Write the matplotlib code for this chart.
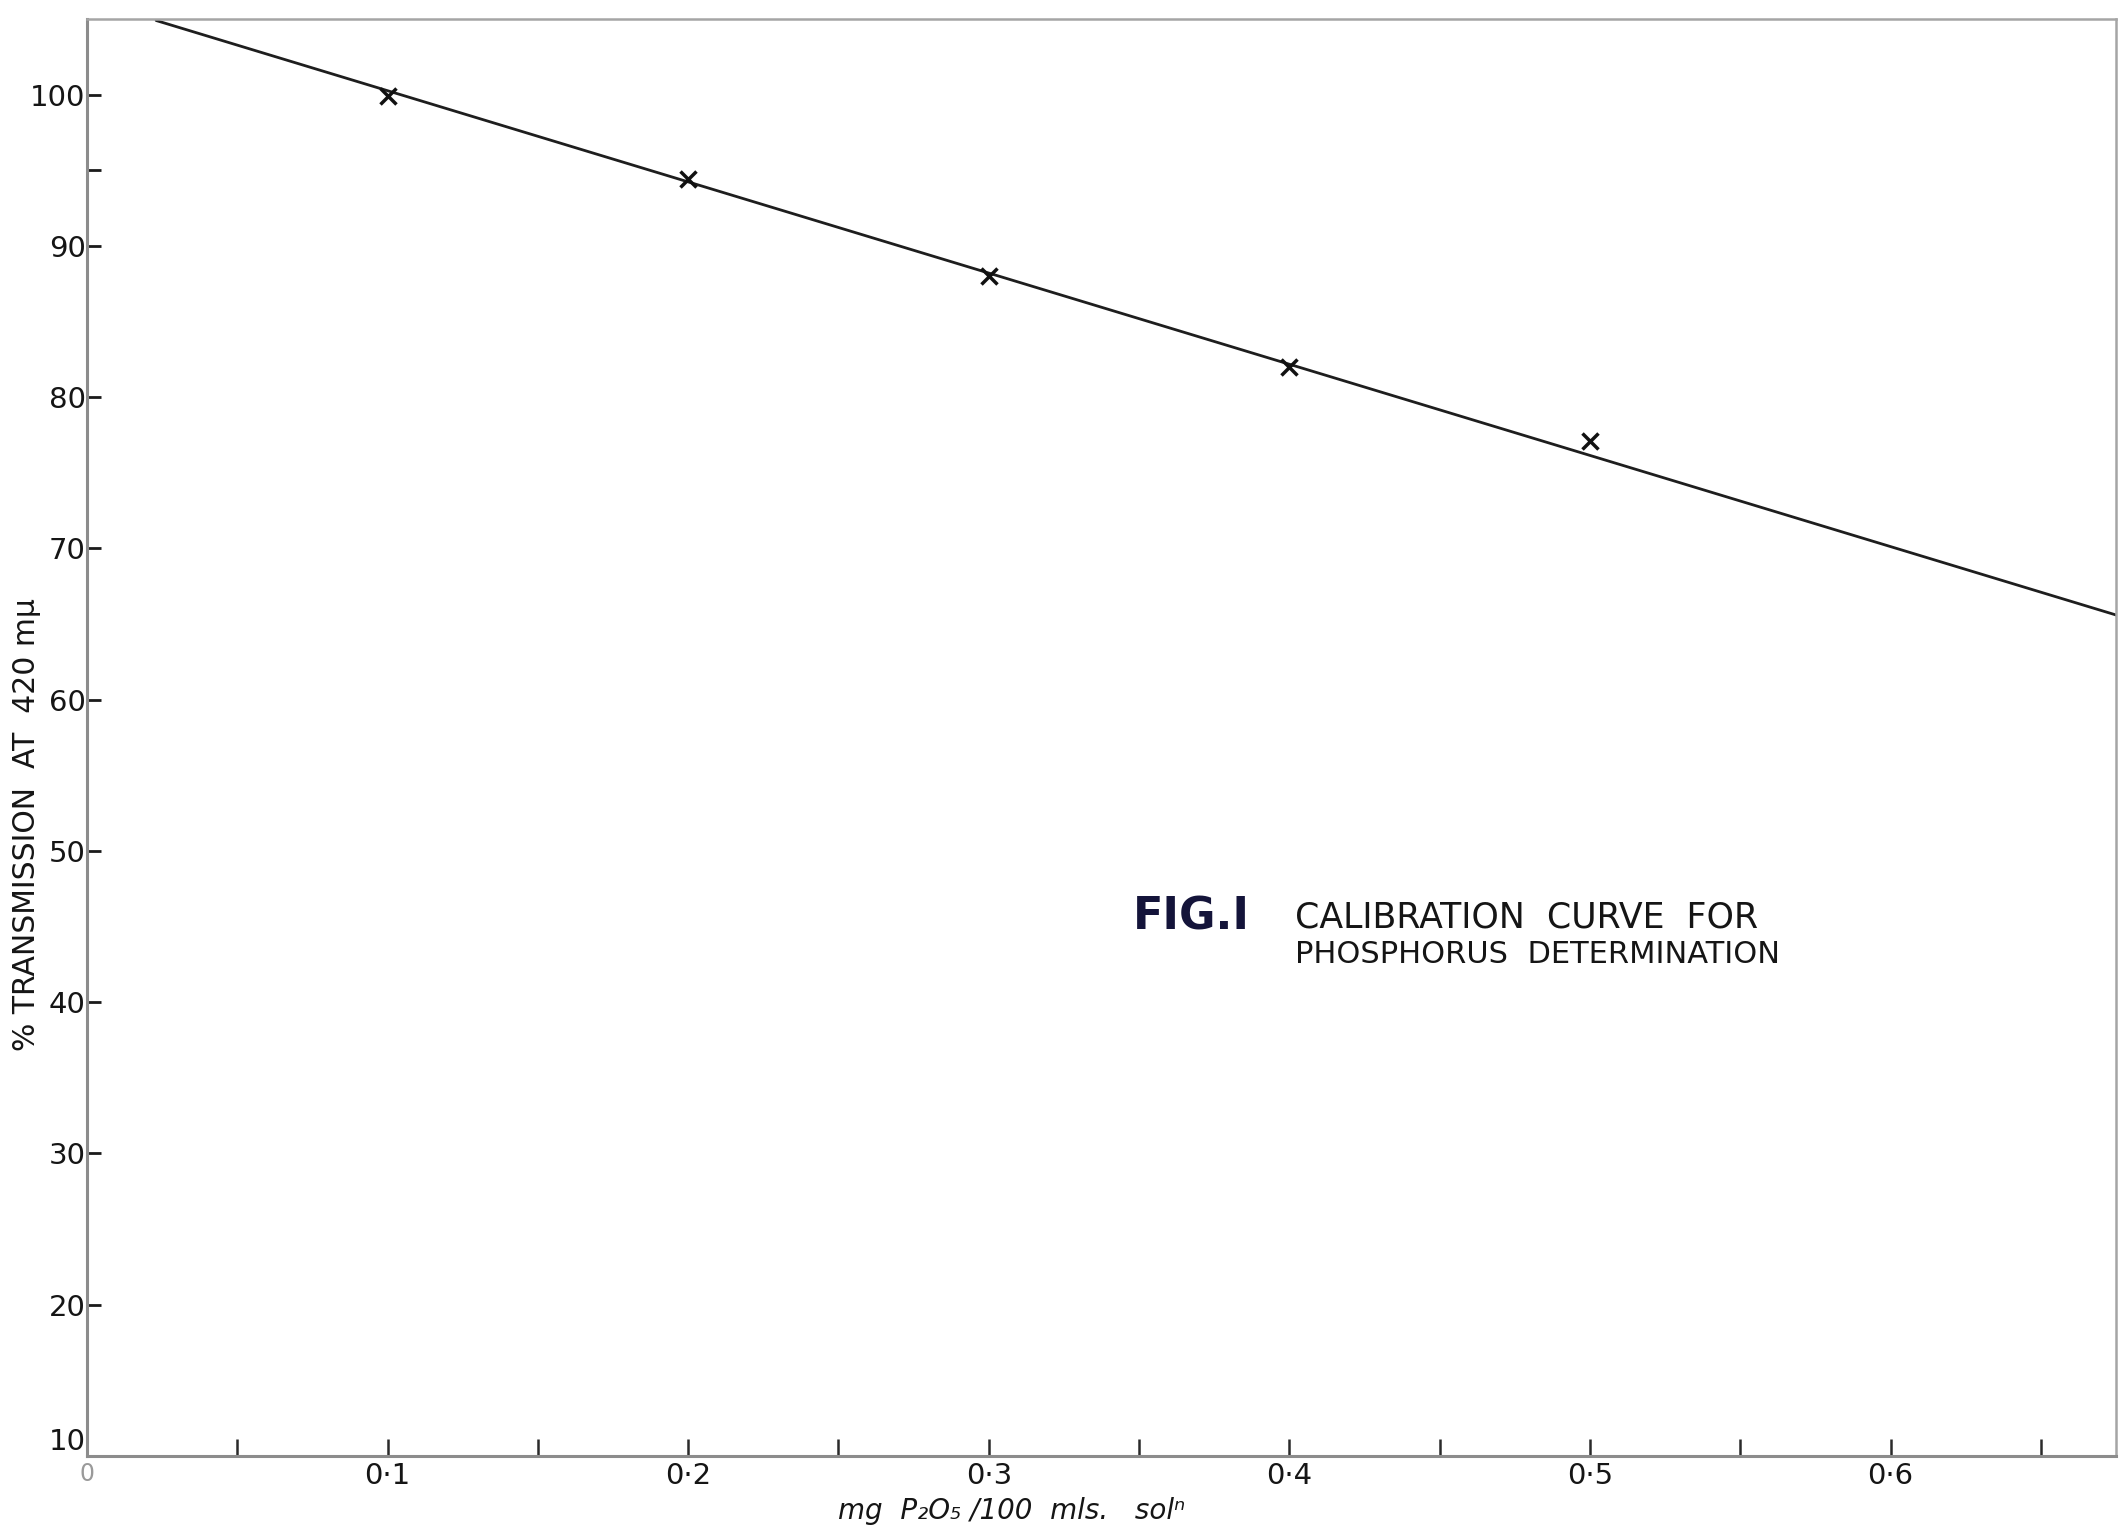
import matplotlib
matplotlib.use("Agg")
import matplotlib.pyplot as plt
from matplotlib.ticker import FixedLocator

# ---- data ----
conc = [0.1, 0.2, 0.3, 0.4, 0.5]                 # mg P2O5 / 100 mls soln
transmission = [99.9, 94.4, 88.0, 82.0, 77.1]    # % transmission at 420 mu
fit_x = [0.023, 0.675]                            # drawn calibration line
fit_y = [104.9, 65.6]

x_major = [0.0, 0.1, 0.2, 0.3, 0.4, 0.5, 0.6]
x_labels = ["0", "0·1", "0·2", "0·3", "0·4", "0·5", "0·6"]
x_minor = [0.05, 0.15, 0.25, 0.35, 0.45, 0.55, 0.65]
y_major = [10, 20, 30, 40, 50, 60, 70, 80, 90, 100]
y_minor = [95]

plt.rcParams['font.family'] = ['DejaVu Sans']

W, H = 2120, 1532
fig = plt.figure(figsize=(W / 100, H / 100), dpi=100)
fig.patch.set_facecolor("white")
left, right, top, bottom = 87, 2116, 19, 1456
ax = fig.add_axes([left / W, 1 - bottom / H, (right - left) / W, (bottom - top) / H])

ax.plot(fit_x, fit_y, color="#1e1e1e", lw=2.0, solid_capstyle="round")
ax.plot(conc, transmission, linestyle="none", marker="x", markersize=12,
        markeredgewidth=2.5, color="#111111")

ax.set_xlim(0, 0.675)
ax.set_ylim(10, 105)

for side in ["left", "bottom"]:
    ax.spines[side].set_color("#8c8c8c")
    ax.spines[side].set_linewidth(2.2)
for side in ["top", "right"]:
    ax.spines[side].set_color("#a5a5a5")
    ax.spines[side].set_linewidth(1.8)

ax.xaxis.set_major_locator(FixedLocator(x_major))
ax.xaxis.set_minor_locator(FixedLocator(x_minor))
ax.set_xticklabels(x_labels)
ax.yaxis.set_major_locator(FixedLocator(y_major))
ax.yaxis.set_minor_locator(FixedLocator(y_minor))

ax.tick_params(axis="x", which="both", direction="in", length=12, width=1.8,
               color="#2a2a2a", labelsize=21, pad=4, labelcolor="#151515")
ax.tick_params(axis="y", which="both", direction="in", length=10, width=2.0,
               color="#1a1a1a", labelsize=21, pad=1, labelcolor="#151515")

# origin labels styled like the reference
xl = ax.get_xticklabels()
xl[0].set_color("#9a9a9a")
xl[0].set_fontsize(17)
yl = ax.get_yticklabels()
yl[0].set_verticalalignment("bottom")

fig.text(27 / W, 1 - 825 / H, "% TRANSMISSION  AT  420 mμ",
         rotation=90, ha="center", va="center", fontsize=21.5, color="#151515")

fig.text(1012 / W, 1 - 1511 / H, "mg  P₂O₅ /100  mls.   solⁿ",
         ha="center", va="center", fontsize=20, style="italic", color="#151515")

fig.text(1133 / W, 1 - 930 / H, "FIG.I",
         ha="left", va="baseline", fontsize=32, fontweight="bold", color="#14143a")
fig.text(1295 / W, 1 - 927 / H, "CALIBRATION  CURVE  FOR",
         ha="left", va="baseline", fontsize=25, color="#151515")
fig.text(1295 / W, 1 - 963 / H, "PHOSPHORUS  DETERMINATION",
         ha="left", va="baseline", fontsize=22, color="#151515")

fig.savefig("out.png", dpi=100, facecolor="white")
